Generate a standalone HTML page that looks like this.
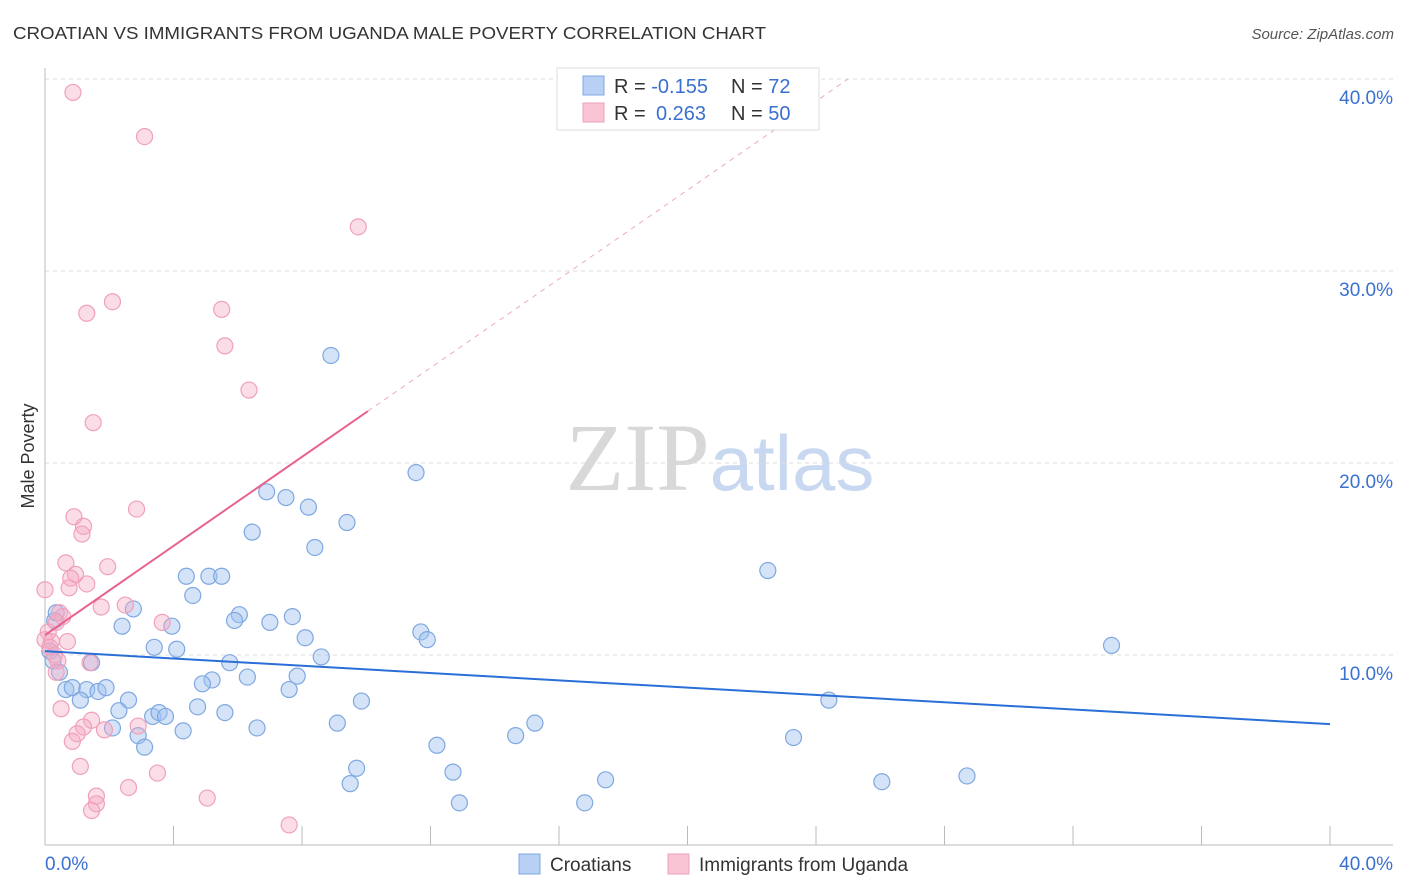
<!DOCTYPE html>
<html><head><meta charset="utf-8"><style>
body{margin:0;background:#fff;font-family:"Liberation Sans",sans-serif;}
svg{display:block}
</style></head><body>
<svg id="chart" width="1406" height="892" xmlns="http://www.w3.org/2000/svg">
<text x="13" y="39" font-size="17.5" fill="#333" textLength="753" lengthAdjust="spacingAndGlyphs">CROATIAN VS IMMIGRANTS FROM UGANDA MALE POVERTY CORRELATION CHART</text>
<text x="1394" y="39" font-size="15" fill="#555" text-anchor="end" font-style="italic">Source: ZipAtlas.com</text>
<text x="720" y="490" font-size="96" text-anchor="middle"><tspan font-family="Liberation Serif,serif" fill="#d8d8d8">ZIP</tspan><tspan fill="#c8d8f0" font-size="78">atlas</tspan></text>
<g id="grid"></g>
<g id="axes"></g>
<g id="pts"></g>
<g id="trend"></g>
<text transform="translate(34,456) rotate(-90)" font-size="18" fill="#333" text-anchor="middle">Male Poverty</text>
<g>
<rect x="557" y="68" width="262" height="62" fill="#fff" stroke="#ddd"/>
<rect x="583" y="76" width="21" height="19" fill="#b8d0f4" stroke="#7fa8e0"/>
<rect x="583" y="103" width="21" height="19" fill="#f8c4d4" stroke="#f0a0bb"/>
<text x="614" y="93" font-size="20" fill="#333">R = <tspan fill="#3a70d0">-0.155</tspan><tspan x="731">N = </tspan><tspan fill="#3a70d0">72</tspan></text>
<text x="614" y="120" font-size="20" fill="#333">R = <tspan fill="#3a70d0" x="656">0.263</tspan><tspan x="731">N = </tspan><tspan fill="#3a70d0">50</tspan></text>
</g>
<g>
<rect x="519" y="854" width="21" height="20" fill="#b8d0f4" stroke="#7fa8e0"/>
<text x="550" y="871" font-size="19" fill="#333">Croatians</text>
<rect x="668" y="854" width="21" height="20" fill="#f8c4d4" stroke="#f0a0bb"/>
<text x="699" y="871" font-size="19" fill="#333">Immigrants from Uganda</text>
</g>
</svg>
<script>
const blueX=[8.9,11.55,6.9,7.5,8.2,9.4,6.45,8.4,22.5,4.4,5.1,5.5,4.6,2.75,6.05,5.9,7.7,7.0,2.4,3.95,8.1,11.7,11.9,3.4,4.1,8.6,33.2,5.75,1.45,0.45,6.3,7.85,5.2,4.9,0.65,0.85,1.3,1.65,1.9,7.6,2.6,1.1,9.85,24.4,4.75,2.3,3.35,3.55,3.75,5.6,9.1,15.25,2.1,4.3,6.6,14.65,23.3,2.9,3.1,12.2,9.7,12.7,9.5,17.45,28.7,26.05,12.9,16.8,0.3,0.15,0.25,0.35];
const blueY=[25.6,19.5,18.5,18.2,17.7,16.9,16.4,15.6,14.4,14.1,14.1,14.1,13.1,12.4,12.1,11.8,12.0,11.7,11.5,11.5,10.9,11.2,10.8,10.4,10.3,9.9,10.5,9.6,9.6,9.1,8.85,8.9,8.7,8.5,8.2,8.3,8.2,8.1,8.3,8.2,7.65,7.65,7.6,7.65,7.3,7.1,6.8,7.0,6.8,7.0,6.45,6.45,6.2,6.05,6.2,5.8,5.7,5.8,5.2,5.3,4.1,3.9,3.3,3.5,3.7,3.4,2.3,2.3,11.8,10.2,9.7,12.2];
const pinkX=[0.87,3.1,9.75,2.1,1.3,5.5,5.6,6.35,1.5,2.85,0.9,1.2,1.15,0.65,1.95,0.95,0.8,1.3,0.75,0.0,2.5,1.75,0.45,0.55,3.65,0.35,0.1,0.0,0.7,0.2,0.15,0.3,0.4,1.4,0.35,0.5,1.45,1.2,1.0,1.85,2.9,0.85,3.5,1.1,2.6,1.6,5.05,1.6,1.45,7.6];
const pinkY=[39.3,37.0,32.3,28.4,27.8,28.0,26.1,23.8,22.1,17.6,17.2,16.7,16.3,14.8,14.6,14.2,14.0,13.7,13.5,13.4,12.6,12.5,12.2,12.0,11.7,11.7,11.2,10.8,10.7,10.7,10.4,10.0,9.7,9.6,9.1,7.2,6.6,6.25,5.9,6.1,6.3,5.5,3.85,4.2,3.1,2.65,2.55,2.25,1.9,1.15];
const yTicks=[10,20,30,40];
const yTickLabels=["10.0%","20.0%","30.0%","40.0%"];
const xTicks=[0,4,8,12,16,20,24,28,32,36,40];
const blueTrend=[[0,10.2],[40,6.4]];
const pinkTrend=[[0,11.04],[10.05,22.7]];
const pinkDash=[[10.05,22.7],[25,40]];
const NS="http://www.w3.org/2000/svg";
const sx=v=>45+v*32.125, sy=v=>847-v*19.2;
function mk(p,t,a){const e=document.createElementNS(NS,t);for(const k in a)e.setAttribute(k,a[k]);p.appendChild(e);return e;}
const grid=document.getElementById('grid'),axes=document.getElementById('axes'),pts=document.getElementById('pts'),tr=document.getElementById('trend');
yTicks.forEach((t,i)=>{
 const l=mk(grid,'line',{x1:45,x2:1393,y1:sy(t),y2:sy(t),stroke:'#ddd','stroke-dasharray':'4,4'});
 
 
 const tx=mk(axes,'text',{x:1393,y:sy(t)+25,'font-size':19,fill:'#3a70d0','text-anchor':'end'});
 tx.textContent=yTickLabels[i];
 
 
});
mk(axes,'line',{x1:45,x2:45,y1:68,y2:845,stroke:'#bbb'});
mk(axes,'line',{x1:45,x2:1393,y1:845,y2:845,stroke:'#bbb'});
xTicks.forEach(t=>{
 const l=mk(axes,'line',{x1:sx(t),x2:sx(t),y1:826,y2:845,stroke:'#bbb'});
 
 
});
const xl0=mk(axes,'text',{x:45,y:870,'font-size':19,fill:'#3a70d0'});xl0.textContent='0.0%';


const xl1=mk(axes,'text',{x:1393,y:870,'font-size':19,fill:'#3a70d0','text-anchor':'end'});xl1.textContent='40.0%';


blueX.forEach((x,i)=>{
 const c=mk(pts,'circle',{cx:sx(x),cy:sy(blueY[i]),r:8,fill:'rgba(160,192,240,0.45)',stroke:'#7fa8e0','stroke-width':1.2});
 
 
});
pinkX.forEach((x,i)=>{
 const c=mk(pts,'circle',{cx:sx(x),cy:sy(pinkY[i]),r:8,fill:'rgba(246,170,196,0.4)',stroke:'#f0a0bb','stroke-width':1.2});
 
 
});
const b=mk(tr,'line',{x1:sx(blueTrend[0][0]),y1:sy(blueTrend[0][1]),x2:sx(blueTrend[1][0]),y2:sy(blueTrend[1][1]),stroke:'#2a6fd6','stroke-width':2});


const p=mk(tr,'line',{x1:sx(pinkTrend[0][0]),y1:sy(pinkTrend[0][1]),x2:sx(pinkTrend[1][0]),y2:sy(pinkTrend[1][1]),stroke:'#e8628e','stroke-width':2});


const pd=mk(tr,'line',{x1:sx(pinkDash[0][0]),y1:sy(pinkDash[0][1]),x2:sx(pinkDash[1][0]),y2:sy(pinkDash[1][1]),stroke:'#eeaac0','stroke-width':1,'stroke-dasharray':'5,5'});


</script>
</body></html>
